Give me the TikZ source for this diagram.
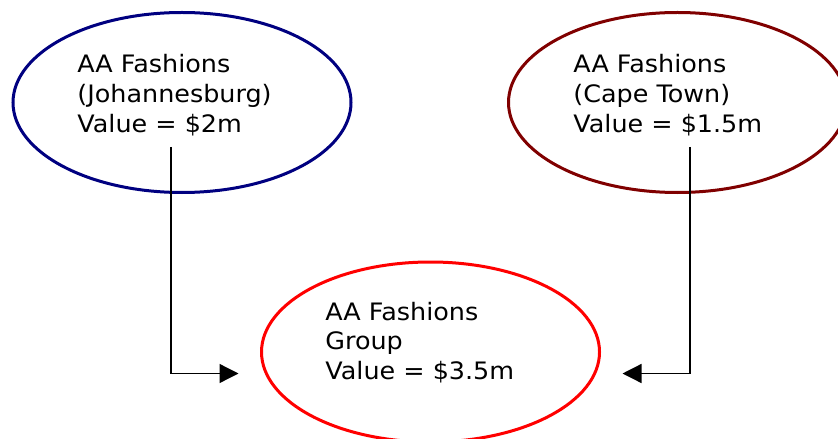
\documentclass[tikz,border=0pt]{standalone}
\usepackage{fontspec}
\setmainfont[FakeStretch=1.06]{DejaVu Sans}
\usetikzlibrary{positioning,shapes.geometric,arrows.meta}
\definecolor{jhbblue}{RGB}{0,0,128}
\definecolor{cptred}{RGB}{128,0,0}
\definecolor{grpred}{RGB}{255,0,0}
\begin{document}
\begin{tikzpicture}[x=0.5pt,y=-0.5pt]
            \tikzstyle{every node}+=[inner sep=0pt]
            \tikzstyle{entity}=[ellipse, line width=1.5pt, minimum width=169pt, minimum height=90pt]
            \tikzstyle{label}=[anchor=north west, align=left, font=\fontsize{12}{14.9}\selectfont]
            \tikzstyle{link}=[line width=0.65pt, -{Triangle[length=9.5pt,width=9.5pt]}]
            \useasboundingbox (0,0) rectangle (838,438);
            % companies
            \node [entity, draw=jhbblue] (jhb) at (182,102.5) {};
            \node [label] (jhbtext) at (77,54) {AA Fashions\\(Johannesburg)\\Value = \$2m};
            \node [entity, draw=cptred] (cpt) at (677.5,102.5) {};
            \node [label] (cpttext) at (573,54) {AA Fashions\\(Cape Town)\\Value = \$1.5m};
            % group
            \node [entity, draw=grpred] (grp) at (430.5,352) {};
            \node [label] (grptext) at (325,301.5) {AA Fashions\\Group\\Value = \$3.5m};
            % consolidation
            \coordinate (jhbfoot) at (171,147);
            \coordinate (cptfoot) at (690,147);
            \coordinate (grpin) at (238.5,373.5);
            \coordinate (grpout) at (622.5,373.5);
            \draw [link] (jhbfoot) |- (grpin);
            \draw [link] (cptfoot) |- (grpout);
\end{tikzpicture}
\end{document}
